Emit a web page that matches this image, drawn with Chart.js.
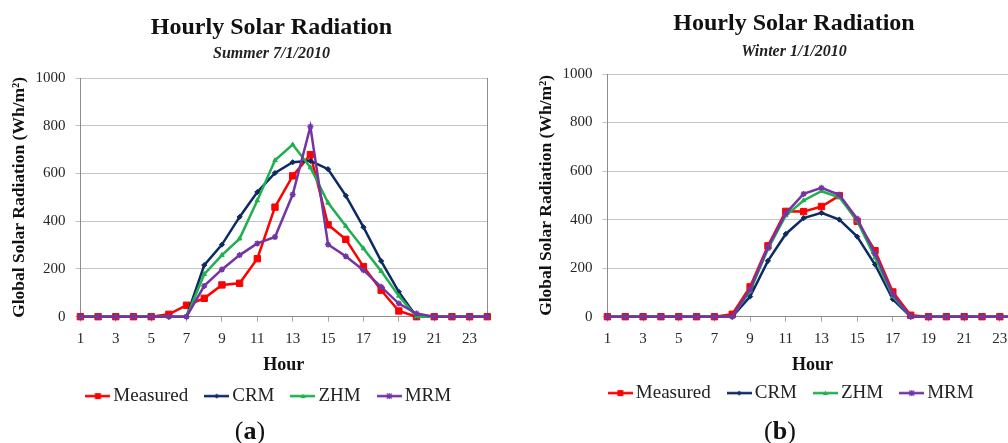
<!DOCTYPE html>
<html>
<head>
<meta charset="utf-8">
<script src="https://cdn.jsdelivr.net/npm/chart.js@4/dist/chart.umd.min.js"></script>
<style>
html, body { margin: 0; padding: 0; background: #fff; overflow: hidden; width: 1008px; height: 443px; }
canvas { position: absolute; top: 0; }
#graficoA { left: 0; }
#graficoB { left: 527px; }
.rotulo { position: absolute; top: 418px; width: 60px; text-align: center; font-family: 'Liberation Serif', serif; font-size: 26px; line-height: 26px; color: #111; }
</style>
</head>
<body>
<canvas id="graficoA" width="543" height="443"></canvas>
<canvas id="graficoB" width="534" height="443"></canvas>
<div class="rotulo" style="left:220px">(<b>a</b>)</div>
<div class="rotulo" style="left:750px">(<b>b</b>)</div>
<script>
// dados
var horas = [1,2,3,4,5,6,7,8,9,10,11,12,13,14,15,16,17,18,19,20,21,22,23,24]
var rotulosHora = [1,3,5,7,9,11,13,15,17,19,21,23]
var ticksRadiacao = [0,200,400,600,800,1000]
var nomesSeries = ['Measured','CRM','ZHM','MRM']

var measuredVerao = [0,0,0,0,0,10,48,77,133,140,243,459,590,679,385,324,210,111,24,0,0,0,0,0]
var crmVerao     = [0,0,0,0,0,0,0,216,302,418,522,602,647,653,618,507,375,233,104,0,0,0,0,0]
var zhmVerao     = [0,0,0,0,0,0,0,178,258,327,487,655,721,625,477,380,286,191,87,0,0,0,0,0]
var mrmVerao     = [0,0,0,0,0,0,0,129,198,258,307,334,512,796,302,253,195,125,55,13,0,0,0,0]

var measuredInverno = [0,0,0,0,0,0,0,10,123,292,434,433,454,499,393,272,102,6,0,0,0,0,0,0]
var crmInverno      = [0,0,0,0,0,0,0,0,83,230,341,406,428,400,330,215,72,0,0,0,0,0,0,0]
var zhmInverno      = [0,0,0,0,0,0,0,0,106,279,417,479,517,492,396,244,84,0,0,0,0,0,0,0]
var mrmInverno      = [0,0,0,0,0,0,0,0,113,286,426,506,531,502,404,261,92,0,0,0,0,0,0,0]

var fonte = "'Liberation Serif', serif"
var cores = ['#ff0000','#0d2a62','#1fb04f','#7335a3']
var marcadores = ['rect','rectRot','triangle','star']
var raios = [4.5,2.6,2.6,3]

/**
* @description: cria o icone da legenda (linha com marcador no meio)
*/
function criaIcone(cor, estilo){
    var c = document.createElement('canvas')
    c.width = 25
    c.height = 10
    var ctx = c.getContext('2d')
    ctx.strokeStyle = cor
    ctx.fillStyle = cor
    ctx.lineWidth = 2.5
    ctx.beginPath()
    ctx.moveTo(0,5)
    ctx.lineTo(25,5)
    ctx.stroke()
    ctx.lineWidth = 1.2
    ctx.beginPath()
    if(estilo == 'rect'){
        ctx.fillRect(9.5,2,6,6)
    }else if(estilo == 'rectRot'){
        ctx.moveTo(12.5,2.5); ctx.lineTo(15,5); ctx.lineTo(12.5,7.5); ctx.lineTo(10,5); ctx.closePath(); ctx.fill()
    }else if(estilo == 'triangle'){
        ctx.moveTo(12.5,2.5); ctx.lineTo(15,7); ctx.lineTo(10,7); ctx.closePath(); ctx.fill()
    }else{
        ctx.moveTo(10,2.5); ctx.lineTo(15,7.5); ctx.moveTo(15,2.5); ctx.lineTo(10,7.5)
        ctx.moveTo(12.5,2); ctx.lineTo(12.5,8); ctx.stroke()
    }
    return c
}

var icones = cores.map(function(cor, i){ return criaIcone(cor, marcadores[i]) })

/**
* @description: monta o grafico de radiacao horaria
*/
function montaGrafico(id, subtitulo, series, aj){
    var datasets = series.map(function(valores, i){
        return {
            label: nomesSeries[i],
            data: horas.map(function(h, k){ return {x: h, y: valores[k]} }),
            borderColor: cores[i],
            backgroundColor: cores[i],
            borderWidth: 2.5,
            pointStyle: marcadores[i],
            pointRadius: raios[i],
            pointBorderWidth: marcadores[i] == 'star' ? 1.5 : 1,
            tension: 0,
            clip: false,
            order: 4 - i
        }
    })

    new Chart(document.getElementById(id), {
        type: 'line',
        data: { datasets: datasets },
        options: {
            responsive: false,
            animation: false,
            layout: { padding: { left: 0, right: 0, top: 0, bottom: aj.baixo } },
            plugins: {
                tooltip: { enabled: false },
                title: {
                    display: true,
                    text: 'Hourly Solar Radiation',
                    color: '#111',
                    font: { family: fonte, size: 24, weight: 'bold' },
                    padding: { top: aj.tituloTopo, bottom: aj.tituloBaixo }
                },
                subtitle: {
                    display: true,
                    text: subtitulo,
                    color: '#222',
                    font: { family: fonte, size: 16, weight: 'bold', style: 'italic' },
                    padding: { top: 0, bottom: aj.subBaixo }
                },
                legend: {
                    position: 'bottom',
                    labels: {
                        usePointStyle: true,
                        pointStyleWidth: 12,
                        padding: 22.5,
                        color: '#222',
                        font: { family: fonte, size: 19 },
                        sort: function(a, b){ return a.datasetIndex - b.datasetIndex },
                        generateLabels: function(chart){
                            var itens = Chart.defaults.plugins.legend.labels.generateLabels(chart)
                            itens.forEach(function(item){ item.pointStyle = icones[item.datasetIndex] })
                            return itens
                        }
                    }
                }
            },
            scales: {
                x: {
                    type: 'linear',
                    min: 1,
                    max: 24,
                    afterBuildTicks: function(eixo){
                        eixo.ticks = rotulosHora.map(function(v){ return {value: v} })
                    },
                    grid: { drawOnChartArea: false, tickLength: 5, color: '#a6a6a6' },
                    border: { color: '#8c8c8c' },
                    ticks: {
                        padding: 8, color: '#262626', font: { family: fonte, size: 15 },
                        callback: function(v){ return String(v) }
                    },
                    title: {
                        display: true,
                        text: 'Hour',
                        color: '#111',
                        font: { family: fonte, size: 18, weight: 'bold' },
                        padding: { top: -1.2, bottom: aj.horaBaixo }
                    }
                },
                y: {
                    min: 0,
                    max: 1000,
                    afterBuildTicks: function(eixo){
                        eixo.ticks = ticksRadiacao.map(function(v){ return {value: v} })
                    },
                    grid: { color: '#c4c4c4', tickLength: 5 },
                    border: { color: '#8c8c8c' },
                    ticks: {
                        padding: 10, color: '#262626', font: { family: fonte, size: 15 },
                        callback: function(v){ return String(v) }
                    },
                    title: {
                        display: true,
                        text: 'Global Solar Radiation (Wh/m²)',
                        color: '#111',
                        font: { family: fonte, size: 17.5, weight: 'bold' },
                        padding: { top: 9.2, bottom: -4.8 }
                    }
                },
                y2: {
                    position: 'right',
                    min: 0,
                    max: 1000,
                    grid: { display: false },
                    ticks: { display: false },
                    border: { display: true, color: '#8c8c8c' },
                    afterFit: function(eixo){ eixo.width = aj.margemDireita }
                }
            }
        }
    })
}

montaGrafico('graficoA', 'Summer 7/1/2010', [measuredVerao, crmVerao, zhmVerao, mrmVerao], {
    margemDireita: 55.7, baixo: 27.4, tituloTopo: 13.8, tituloBaixo: 1.4, subBaixo: 14.8, horaBaixo: -12
})

montaGrafico('graficoB', 'Winter 1/1/2010', [measuredInverno, crmInverno, zhmInverno, mrmInverno], {
    margemDireita: 43.3, baixo: 30.4, tituloTopo: 9.5, tituloBaixo: 3.7, subBaixo: 12.8, horaBaixo: -15
})
</script>
</body>
</html>
